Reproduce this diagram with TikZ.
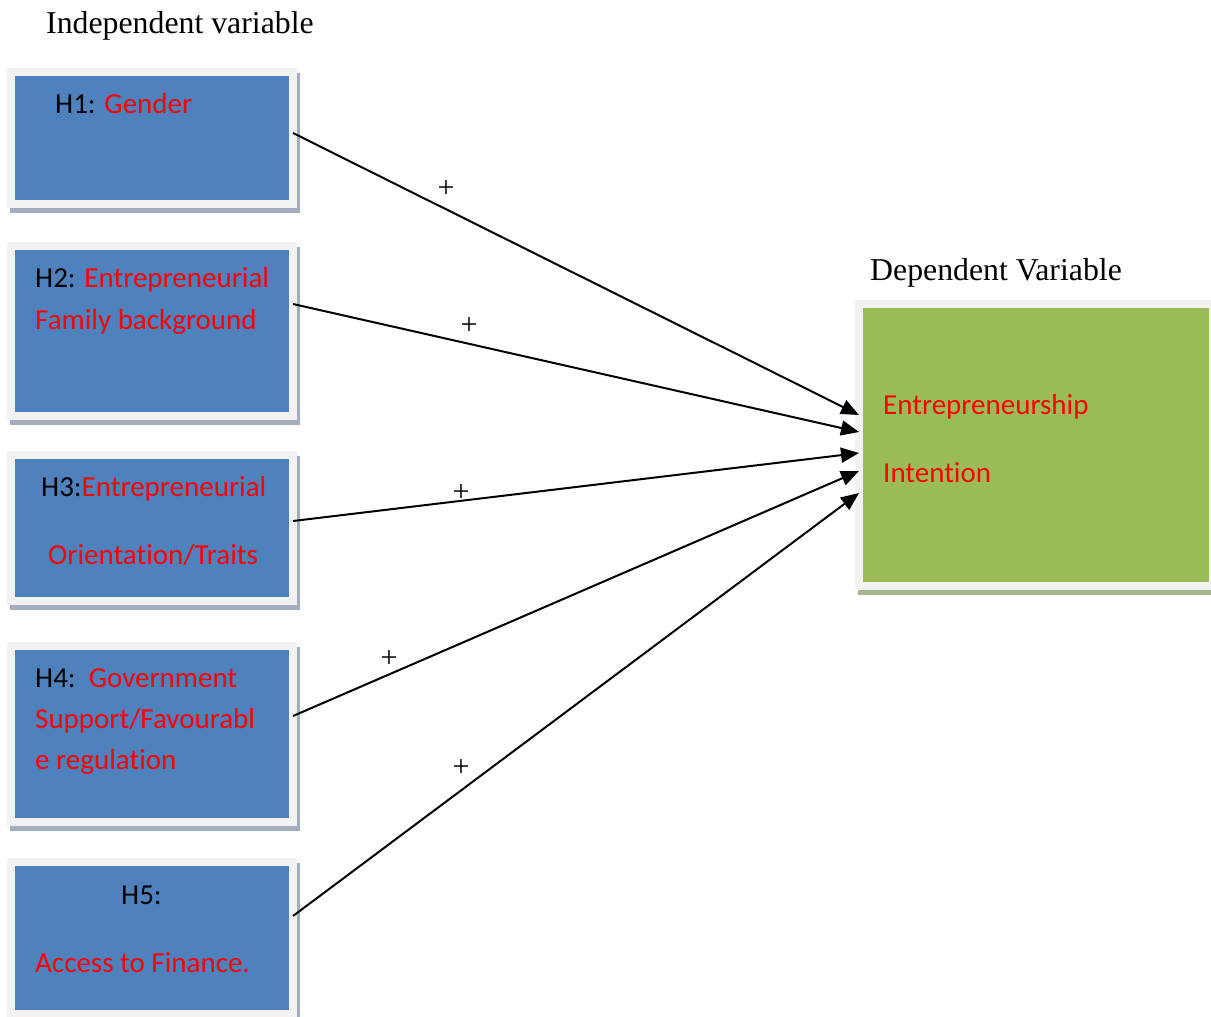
\documentclass[tikz,border=0pt]{standalone}
\usepackage{fontspec}
\setmainfont{Liberation Serif}
\newfontfamily\calfont[Ligatures={NoCommon}]{Carlito}
\usetikzlibrary{arrows.meta}
\definecolor{boxblue}{HTML}{4F81BD}
\definecolor{boxgreen}{HTML}{9BBB59}
\definecolor{framec}{HTML}{F2F2F2}
\definecolor{shadowb}{HTML}{A3ADBF}
\definecolor{shadowg}{HTML}{A9B492}
\definecolor{txtred}{HTML}{FF0000}
\tikzset{
  ivbox/.style={rectangle, fill=boxblue, draw=framec, line width=8pt, minimum width=282pt, inner sep=0pt, outer sep=0pt,
     preaction={draw=shadowb, fill=shadowb, line width=8pt, transform canvas={xshift=3pt,yshift=-5pt}}},
  dvbox/.style={rectangle, fill=boxgreen, draw=framec, line width=8pt, inner sep=0pt, outer sep=0pt,
     preaction={draw=shadowg, fill=shadowg, line width=8pt, transform canvas={xshift=3pt,yshift=-5pt}}},
  btxt/.style={anchor=base west, inner sep=0pt, font=\calfont\fontsize{29}{34}\selectfont},
  htxt/.style={anchor=base west, inner sep=0pt, font=\fontsize{31.8}{38}\selectfont},
  plus/.style={inner sep=0pt, font=\fontsize{30}{34}\selectfont},
  conn/.style={line width=2pt, -{Triangle[length=18pt,width=15pt]}},
}
\begin{document}
\begin{tikzpicture}[x=1pt,y=-1pt]
\useasboundingbox (0,0) rectangle (1211,1017);
% boxes
\node[ivbox, minimum height=132pt] (b1) at (152,138) {};
\node[ivbox, minimum height=170pt] (b2) at (152,331) {};
\node[ivbox, minimum height=146pt] (b3) at (152,528) {};
\node[ivbox, minimum height=176pt] (b4) at (152,734) {};
\node[ivbox, minimum height=152pt] (b5) at (152,938) {};
\node[dvbox, minimum width=354pt, minimum height=282pt] (dv) at (1036,445) {};
% headers
\node[htxt] (hiv) at (46,34) {Independent variable};
\node[htxt] (hdv) at (870,280) {Dependent Variable};
% box texts
\node[btxt] (t1) at (55,113) {H1: \textcolor{txtred}{Gender}};
\node[btxt] (t2a) at (35,287) {H2: \textcolor{txtred}{Entrepreneurial}};
\node[btxt, text=txtred] (t2b) at (35,329) {Family background};
\node[btxt] (t3a) at (41,496) {H3:\textcolor{txtred}{Entrepreneurial}};
\node[btxt, text=txtred] (t3b) at (48,564) {Orientation/Traits};
\node[btxt] (t4a) at (35,687) {H4:\ \ \textcolor{txtred}{Government}};
\node[btxt, text=txtred] (t4b) at (35,728) {Support/Favourabl};
\node[btxt, text=txtred] (t4c) at (35,769) {e regulation};
\node[btxt] (t5a) at (121,904) {H5:};
\node[btxt, text=txtred] (t5b) at (35,972) {Access to Finance.};
\node[btxt, text=txtred] (td1) at (883,414) {Entrepreneurship};
\node[btxt, text=txtred] (td2) at (883,482) {Intention};
% connectors
\draw[conn] ([yshift=5pt]b1.east) -- ([yshift=30pt]dv.west);
\draw[conn] ([yshift=27pt]b2.east) -- ([yshift=13pt]dv.west);
\draw[conn] ([yshift=7pt]b3.east) -- ([yshift=-8pt]dv.west);
\draw[conn] ([yshift=18pt]b4.east) -- ([yshift=-26pt]dv.west);
\draw[conn] ([yshift=22pt]b5.east) -- ([yshift=-48pt]dv.west);
% plus signs
\node[plus] (p1) at (446,189) {+};
\node[plus] (p2) at (469,326) {+};
\node[plus] (p3) at (461,493) {+};
\node[plus] (p4) at (389,659) {+};
\node[plus] (p5) at (461,768) {+};
\end{tikzpicture}
\end{document}
